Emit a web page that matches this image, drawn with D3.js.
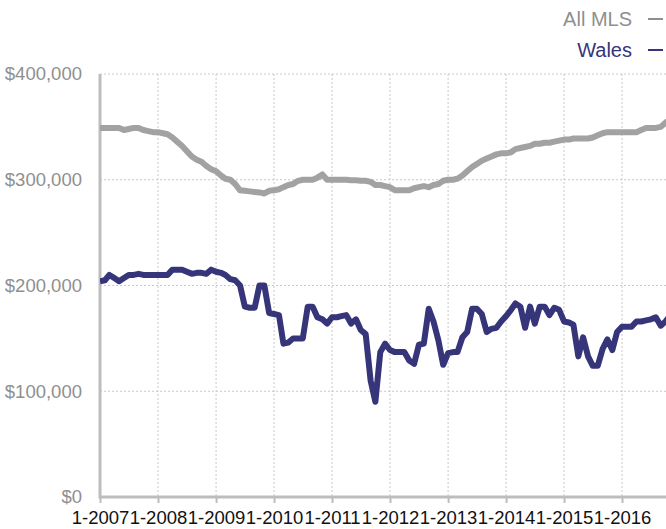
<!DOCTYPE html>
<html lang="en">
<head>
  <meta charset="UTF-8">
  <title>All MLS vs Wales</title>
  <script src="https://d3js.org/d3.v7.min.js"></script>
  <style>
    body { margin: 0; background: #fff; }
    svg { display: block; font-family: "Liberation Sans", Arial, sans-serif; }
    .grid line { stroke: #c8c8c8; stroke-width: 1; stroke-dasharray: 2,2; }
    .y-axis text { fill: #8f8f8f; font-size: 18.5px; }
    .x-axis text { fill: #111; font-size: 18.5px; }
  </style>
</head>
<body>
<svg width="666" height="529"></svg>
<script>
  // monthly medians, starting 1-2007 (values in $1,000)
  const startYear = 2007;
  const seriesNames = ["All MLS", "Wales"];
  const seriesColors = ["#a2a2a2", "#36357a"];
  const allMls = [349, 349, 349, 349, 349, 347, 348, 349, 349, 347, 346, 345,
    345, 344, 343, 340, 336, 332, 327, 322, 319, 317, 313, 310,
    308, 304, 301, 300, 296, 290, 289.5, 289, 288.5, 288, 287, 289.5,
    290, 291, 293, 295, 296, 299, 300, 300, 300, 302, 305, 300,
    300, 300, 300, 300, 299.5, 299.5, 299, 299, 298, 295, 295, 294,
    293, 290, 290, 290, 290, 292, 293, 294, 293, 295, 296, 299,
    300, 300, 301, 304, 308, 312, 315, 318, 320, 322, 324, 325,
    325, 326, 329, 330, 331, 332, 334, 334, 335, 335, 336, 337,
    338, 338, 339, 339, 339, 339, 340, 342, 344, 345, 345, 345,
    345, 345, 345, 345, 347, 349, 349, 349, 350, 354, 357];
  const wales = [204, 205, 210, 207, 204, 207, 210, 210, 211, 210, 210, 210,
    210, 210, 210, 215, 215, 215, 213, 211, 212, 212, 211, 215,
    213, 212, 210, 206, 205, 200, 180, 179, 179, 200, 200, 174,
    173, 172, 145, 146, 150, 150, 150, 180, 180, 170, 168, 164,
    170, 170, 171, 172, 164, 168, 158, 154, 110, 90, 137, 145,
    139, 137, 137, 137, 129, 126, 144, 145, 178, 166, 148, 125,
    136, 137, 137, 151, 156, 178, 178, 173, 156, 159, 160, 166,
    171, 177, 183, 180, 160, 180, 164, 180, 180, 172, 179, 177,
    166, 165, 163, 133, 151, 133, 124, 124, 140, 149, 139, 156,
    161, 161, 161, 166, 166, 167, 168, 170, 162, 166, 172];
  const yTicks = [0, 100000, 200000, 300000, 400000];

  const width = 666, height = 529;
  const margin = {top: 74, right: 0, bottom: 32, left: 100};
  const chartWidth = width - margin.left - margin.right;
  const chartHeight = height - margin.top - margin.bottom;

  const svg = d3.select("svg");
  const g = svg.append("g").attr("transform", `translate(${margin.left},${margin.top})`);

  const monthDate = i => new Date(startYear, i, 1);
  const yearTicks = d3.range(0, 10).map(k => new Date(startYear + k, 0, 1));

  // one year = 58px, chart is cut at the right edge
  const x = d3.scaleTime()
    .domain([new Date(2007, 0, 1), new Date(2016, 0, 1)])
    .range([0, 522]);
  const y = d3.scaleLinear().domain([0, 400000]).range([chartHeight, 0]);

  // dotted grid
  const grid = g.append("g").attr("class", "grid");
  grid.selectAll(".h").data(yTicks.slice(1)).enter().append("line")
    .attr("x1", 0).attr("x2", chartWidth)
    .attr("y1", d => y(d)).attr("y2", d => y(d));
  grid.selectAll(".v").data(yearTicks.slice(1)).enter().append("line")
    .attr("x1", d => x(d)).attr("x2", d => x(d))
    .attr("y1", 0).attr("y2", chartHeight);

  // axes
  const yAxis = g.append("g").attr("class", "y-axis")
    .call(d3.axisLeft(y).tickValues(yTicks).tickSize(0).tickPadding(18)
      .tickFormat(d3.format("$,.0f")));
  yAxis.select(".domain").remove();

  const xAxis = g.append("g").attr("class", "x-axis")
    .attr("transform", `translate(0,${chartHeight})`)
    .call(d3.axisBottom(x).tickValues(yearTicks).tickSize(6).tickPadding(8)
      .tickFormat(d3.timeFormat("%-m-%Y")));
  xAxis.select(".domain").remove();
  xAxis.selectAll(".tick line").attr("stroke", "#bdbdbd").attr("stroke-width", 2);

  g.append("line").attr("x1", 0).attr("x2", chartWidth)
    .attr("y1", chartHeight).attr("y2", chartHeight)
    .attr("stroke", "#bdbdbd").attr("stroke-width", 3);
  g.append("line").attr("x1", 0).attr("x2", 0)
    .attr("y1", 0).attr("y2", chartHeight + 1.5)
    .attr("stroke", "#bdbdbd").attr("stroke-width", 3);

  // lines
  g.append("clipPath").attr("id", "clip").append("rect")
    .attr("x", 0).attr("y", -10).attr("width", chartWidth).attr("height", chartHeight + 10);

  const line = d3.line()
    .x((d, i) => x(monthDate(i)))
    .y(d => y(d * 1000));

  [allMls, wales].forEach((vals, k) => {
    g.append("path")
      .datum(vals)
      .attr("clip-path", "url(#clip)")
      .attr("fill", "none")
      .attr("stroke", seriesColors[k])
      .attr("stroke-width", 6)
      .attr("stroke-linejoin", "round")
      .attr("d", line);
  });

  // legend, top right
  const legend = svg.append("g");
  seriesNames.forEach((name, k) => {
    const ly = 26 + k * 31;
    legend.append("text")
      .attr("x", 632).attr("y", ly)
      .attr("text-anchor", "end")
      .style("font-size", "20px")
      .attr("fill", k === 0 ? "#8f8f8f" : seriesColors[1])
      .text(name);
    legend.append("line")
      .attr("x1", 648).attr("x2", 663)
      .attr("y1", ly - 7).attr("y2", ly - 7)
      .attr("stroke", k === 0 ? "#8f8f8f" : seriesColors[1])
      .attr("stroke-width", 2);
  });
</script>
</body>
</html>
